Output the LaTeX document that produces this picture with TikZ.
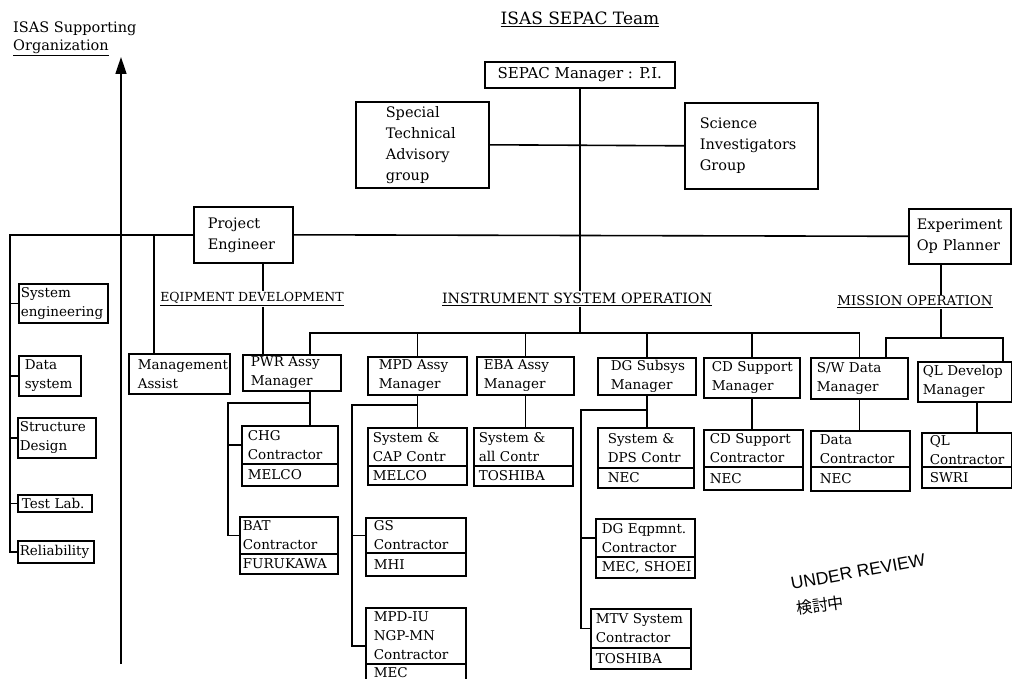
\documentclass[tikz,border=0pt]{standalone}
\usepackage{fontspec}
\setmainfont{DejaVu Serif}
\newfontfamily\revfont{Liberation Sans}
\newfontfamily\cjkfont{Noto Sans CJK JP}
\usetikzlibrary{arrows.meta,calc}
\hyphenpenalty=10000
\exhyphenpenalty=10000
\tikzset{
  box/.style={draw, line width=1.6pt, anchor=north west, inner ysep=0pt, align=left,
    font=\fontsize{13.5}{19}\selectfont},
  bigbox/.style={box, font=\fontsize{14.5}{21}\selectfont},
  conn/.style={line width=1.6pt},
  lbl/.style={font=\fontsize{12.5}{15}\selectfont, inner sep=1pt},
}
% [style]{name}{x}{y}{w}{h}{indent}{text}
\newcommand\bx[8][box]{%
  \pgfmathsetmacro\bxtw{#5-2*#7}%
  \node[#1, inner xsep=#7pt, text width=\bxtw pt, minimum height=#6pt] (#2) at (#3,#4) {#8};}
% {name}{x}{y}{w}{h1}{h2}{indent}{text1}{text2}
\newcommand\cbx[9]{%
  \pgfmathsetmacro\bxtw{#4-2*#7}%
  \node[box, inner xsep=#7pt, text width=\bxtw pt, minimum height=#5pt] (#1) at (#2,#3) {#8};
  \node[box, inner xsep=#7pt, text width=\bxtw pt, minimum height=#6pt] (#1co) at (#2,{#3+#5}) {#9};}
\begin{document}
\begin{tikzpicture}[x=1pt,y=-1pt]
\useasboundingbox (0,0) rectangle (1012,679);
\fill[white] (0,0) rectangle (1012,679);
\clip (0,0) rectangle (1012,679);

% titles
\node[font=\fontsize{14.5}{18}\selectfont, anchor=base west, inner sep=0pt] (t1) at (13,33) {ISAS Supporting};
\node[font=\fontsize{14.5}{18}\selectfont, anchor=base west, inner sep=0pt] (t2) at (13,51) {\underline{Organization}};
\node[font=\fontsize{17}{18}\selectfont, anchor=base, inner sep=0pt] (t3) at (580,25) {\underline{ISAS SEPAC Team}};

% top boxes
\node[box, font=\fontsize{15}{16}\selectfont, align=center, minimum width=190pt, minimum height=26pt, inner xsep=0pt] (sepac) at (484,61) {SEPAC Manager : P.I.};
\bx[bigbox]{stag}{355}{101}{133}{86}{30}{Special\\Technical\\Advisory\\group}
\bx[bigbox]{sig}{684}{102}{133}{86}{15}{Science\\Investigators\\Group}
\bx[bigbox]{pe}{193}{206}{99}{56}{14}{Project\\Engineer}
\bx[bigbox]{exp}{908}{208}{102}{55}{8}{Experiment\\Op~Planner}

% labels
\node[lbl] (ed) at (252,299) {\underline{EQIPMENT DEVELOPMENT}};
\node[lbl, font=\fontsize{14.2}{15}\selectfont] (iso) at (577,299) {\underline{INSTRUMENT SYSTEM OPERATION}};
\node[lbl, font=\fontsize{13.4}{15}\selectfont] (mo) at (915,302) {\underline{MISSION OPERATION}};

% left column
\bx{syseng}{18}{283}{89}{39}{2}{System\\engineering}
\bx{datasys}{18}{355}{62}{40}{6}{Data\\system}
\bx{strdes}{17}{417}{78}{40}{2}{Structure\\Design}
\bx{testlab}{17}{494}{74}{17}{4}{Test~Lab.}
\bx{rel}{17}{540}{76}{22}{2}{Reliability}

% managers
\bx{ma}{128}{353}{101}{40}{9}{Management\\Assist}
\bx{pwr}{242}{354}{98}{36}{8}{PWR~Assy\\Manager}
\bx{mpd}{367}{356}{99}{38}{11}{MPD~Assy\\Manager}
\bx{eba}{476}{356}{97}{38}{7}{EBA~Assy\\Manager}
\bx{dg}{597}{357}{98}{37}{13}{DG~Subsys\\Manager}
\bx{cd}{703}{357}{96}{40}{8}{CD~Support\\Manager}
\bx{sw}{810}{357}{97}{41}{6}{S/W~Data\\Manager}
\bx{ql}{917}{361}{94}{40}{5}{QL~Develop\\Manager}

% contractors
\cbx{chg}{241}{425}{96}{38}{22}{6}{CHG\\Contractor}{MELCO}
\cbx{bat}{239}{516}{98}{37}{20}{3}{BAT\\Contractor}{FURUKAWA}
\cbx{syscap}{367}{427}{99}{38}{19}{5}{System~\&\\CAP~Contr}{MELCO}
\cbx{sysall}{473}{427}{99}{38}{20}{5}{System~\&\\all~Contr}{TOSHIBA}
\cbx{sysdps}{597}{427}{96}{40}{20}{10}{System~\&\\DPS~Contr}{NEC}
\cbx{cdc}{703}{429}{99}{37}{23}{6}{CD~Support\\Contractor}{NEC}
\cbx{datac}{810}{430}{99}{36}{24}{9}{Data\\Contractor}{NEC}
\cbx{qlc}{921}{432}{90}{34}{21}{8}{QL\\Contractor}{SWRI}
\cbx{gs}{365}{517}{100}{35}{23}{8}{GS\\Contractor}{MHI}
\cbx{mpdiu}{365}{607}{100}{56}{18}{8}{MPD-IU\\NGP-MN\\Contractor}{MEC}
\cbx{dgeq}{595}{518}{99}{38}{21}{6}{DG~Eqpmnt.\\Contractor}{MEC,~SHOEI}
\cbx{mtv}{590}{608}{100}{39}{21}{5}{MTV~System\\Contractor}{TOSHIBA}

% coordinates
\coordinate (arrB) at (121,664);
\coordinate (arrT) at (121,57);
\coordinate (lbx) at (10,0);
\coordinate (max) at (154,0);
\coordinate (pex) at (263,0);
\coordinate (busL) at (310,333);
\coordinate (mx) at (941,338);
\coordinate (mxl) at (886,338);
\coordinate (mxr) at (1003,338);
\coordinate (pwrj) at (228,403);
\coordinate (mpdj) at (352,405);
\coordinate (dgj) at (581,410);
\coordinate (qlx) at (977,0);

% connectors
\draw[conn, -{Triangle[length=17pt,width=11pt]}] (arrB) -- (arrT);
\draw[conn] (stag.east) -- (sig.west);
\draw[conn] (sepac.south) -- (iso.north -| sepac.south);
\draw[conn] (iso.south -| sepac.south) -- (busL -| sepac.south);
\draw[conn] (pwr.north -| busL) -- (busL) -- (busL -| sw.north) -- (sw.north);
\foreach \n in {mpd,eba,dg,cd} \draw[conn] (\n.north) -- (\n.north |- busL);

\draw[conn] (exp.south -| mx) -- (mo.north -| mx);
\draw[conn] (mo.south -| mx) -- (mx);
\draw[conn] (sw.north -| mxl) -- (mxl) -- (mxr) -- (ql.north -| mxr);

\draw[conn] (pe.west) -| (lbx |- rel.west) -- (rel.west);
\foreach \n in {syseng,datasys,strdes,testlab} \draw[conn] (lbx |- \n.west) -- (\n.west);
\draw[conn] (pe.east) -- (exp.west);
\draw[conn] (max |- pe.west) -- (max |- ma.north);
\draw[conn] (pex |- pe.south) -- (pex |- ed.north);
\draw[conn] (pex |- ed.south) -- (pex |- pwr.north);

\draw[conn] (pwr.south -| busL) -- (chg.north -| busL);
\draw[conn] (pwrj -| busL) -- (pwrj) |- (bat.west);
\draw[conn] (pwrj |- chg.west) -- (chg.west);

\draw[conn] (mpd.south) -- (mpd.south |- syscap.north);
\draw[conn] (mpdj -| mpd.south) -- (mpdj) |- ($(mpdiu.west)+(0,10)$);
\draw[conn] (mpdj |- gs.west) -- (gs.west);

\draw[conn] (eba.south) -- (eba.south |- sysall.north);

\draw[conn] (dg.south) -- (dg.south |- sysdps.north);
\draw[conn] (dgj -| dg.south) -- (dgj) |- (mtv.west);
\draw[conn] (dgj |- dgeq.west) -- (dgeq.west);

\draw[conn] (cd.south) -- (cd.south |- cdc.north);
\draw[conn] (sw.south) -- (sw.south |- datac.north);
\draw[conn] (qlx |- ql.south) -- (qlx |- qlc.north);

% stamp
\node[font=\revfont\fontsize{17.5}{17.5}\selectfont, rotate=10.5, anchor=base west, inner sep=0pt] (ur) at (792,590) {UNDER REVIEW};
\node[font=\cjkfont\fontsize{16}{16}\selectfont, rotate=8, anchor=base west, inner sep=0pt] (jp) at (797,615) {検討中};
\end{tikzpicture}
\end{document}
